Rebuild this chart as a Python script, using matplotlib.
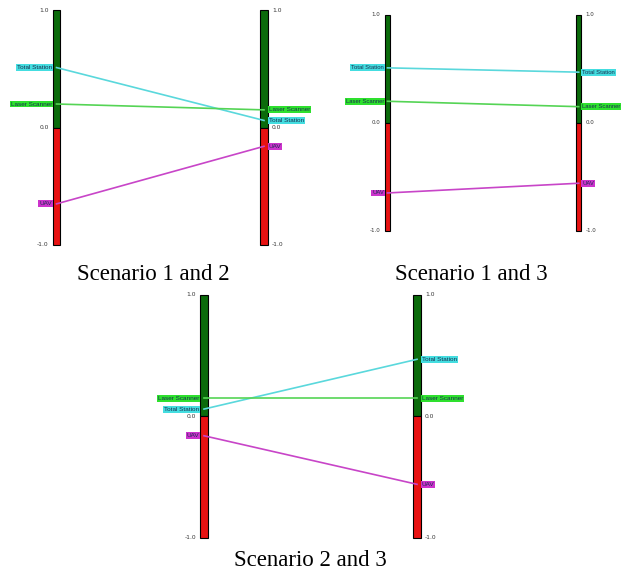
import matplotlib
matplotlib.use("Agg")
import matplotlib.pyplot as plt

# values, one list per scenario
methods = ["Total Station", "Laser Scanner", "UAV"]
scenario_1 = [0.51, 0.20, -0.65]
scenario_2 = [0.06, 0.15, -0.16]
scenario_3 = [0.47, 0.15, -0.56]
scale_ticks = [1.0, 0.0, -1.0]

pairs = [
    ("Scenario 1 and 2", scenario_1, scenario_2),
    ("Scenario 1 and 3", scenario_1, scenario_3),
    ("Scenario 2 and 3", scenario_2, scenario_3),
]

line_colors = {"Total Station": "#5ad8dc", "Laser Scanner": "#55d455", "UAV": "#c845c8"}
box_colors = {"Total Station": "#44dde0", "Laser Scanner": "#2ee02e", "UAV": "#cc33cc"}

W, H = 621, 574
# pixel geometry: left bar centre, right bar centre, top, bottom, bar width, font scale
panels = [
    (56.5, 264.0, 10.0, 245.0, 7.5, 1.0),
    (387.5, 578.7, 15.0, 230.7, 5.5, 0.92),
    (204.0, 417.0, 295.0, 537.7, 7.7, 1.0),
]
captions_xy = [(153, 275), (471, 275), (310, 561)]

fig = plt.figure(figsize=(W / 100, H / 100), dpi=100)

for (title, left_vals, right_vals), (x0, x1, top, bot, bw_px, fs), (cx, cy) in zip(
        pairs, panels, captions_xy):
    ax = fig.add_axes([x0 / W, (H - bot) / H, (x1 - x0) / W, (bot - top) / H])
    ax.set_xlim(0, 1)
    ax.set_ylim(-1, 1)
    ax.axis("off")
    bw = bw_px / (x1 - x0)

    ax.bar([0, 1], [1, 1], width=bw, color="#0b6b0b", edgecolor="black",
           linewidth=0.8, clip_on=False, zorder=1)
    ax.bar([0, 1], [-1, -1], width=bw, color="#e81212", edgecolor="black",
           linewidth=0.8, clip_on=False, zorder=1)

    for t in scale_ticks:
        ax.annotate(f"{t:.1f}", xy=(-bw / 2, t), xytext=(-3, 0),
                    textcoords="offset points", ha="right", va="center",
                    fontsize=4.3 * fs, color="#333333", annotation_clip=False)
        ax.annotate(f"{t:.1f}", xy=(1 + bw / 2, t), xytext=(3, 0),
                    textcoords="offset points", ha="left", va="center",
                    fontsize=4.3 * fs, color="#333333", annotation_clip=False)

    for name, a, b in zip(methods, left_vals, right_vals):
        ax.plot([0, 1], [a, b], color=line_colors[name], lw=1.2,
                clip_on=False, zorder=3)
        box = dict(boxstyle="square,pad=0.15", fc=box_colors[name], ec="none")
        ax.text(-bw / 2 - 0.004, a, name, ha="right", va="center", fontsize=4.6 * fs,
                family="Liberation Sans", color="#1a3050", bbox=box, zorder=4)
        ax.text(1 + bw / 2 + 0.004, b, name, ha="left", va="center", fontsize=4.6 * fs,
                family="Liberation Sans", color="#1a3050", bbox=box, zorder=4)

    fig.text(cx / W, (H - cy) / H, title, ha="center", va="center",
             fontsize=16.5, family="Liberation Serif")

fig.savefig("out.png", dpi=100)
